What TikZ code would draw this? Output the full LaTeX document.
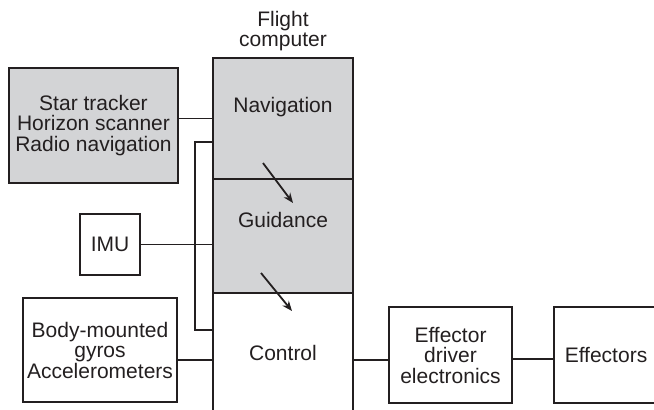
\documentclass[tikz,border=0pt]{standalone}
\usepackage{fontspec}
\setmainfont{Liberation Sans}
\usetikzlibrary{arrows.meta,calc}
\definecolor{fillgray}{RGB}{211,212,214}
\definecolor{ink}{RGB}{35,31,32}
\tikzset{
  blk/.style={draw=ink, line width=1.8pt, rectangle, inner sep=0pt, align=center, text=ink, font=\fontsize{21}{20.5}\selectfont},
  shaded/.style={blk, fill=fillgray},
  lbl/.style={text=ink, align=center, font=\fontsize{21}{20.5}\selectfont, inner sep=0pt},
  wire/.style={draw=ink, line width=1.8pt},
  flow/.style={draw=ink, line width=1.8pt, -{Stealth[length=10pt,width=8pt]}}
}
\begin{document}
\begin{tikzpicture}[x=1pt,y=-1pt]
\useasboundingbox (0,0) rectangle (654,410);
\clip (0,0) rectangle (654,410);
% flight computer
\node[shaded, minimum width=140pt, minimum height=121pt] (nav) at (283,118.5) {};
\node[shaded, minimum width=140pt, minimum height=114pt] (guid) at (283,236) {};
\node[blk, fill=white, minimum width=140pt, minimum height=130pt] (ctrl) at (283,358) {};
\node[lbl] (navt) at (283,107) {Navigation};
\node[lbl] (guidt) at (283,220) {Guidance};
\node[lbl] (ctrlt) at (283,353) {Control};
\node[lbl] (fc) at (283,31) {Flight\\computer};
% sensors
\node[shaded, minimum width=169pt, minimum height=115pt] (star) at (93.5,125.5) {Star tracker\\Horizon scanner\\Radio navigation};
\node[blk, minimum width=60pt, minimum height=61pt] (imu) at (110,244.5) {IMU};
\node[blk, minimum width=154pt, minimum height=104pt] (body) at (100,350) {Body-mounted\\gyros\\Accelerometers};
% actuators
\node[blk, minimum width=123pt, minimum height=96pt] (drv) at (450.5,355) {Effector\\driver\\electronics};
\node[blk, minimum width=104pt, minimum height=96pt, text width=104pt] (eff) at (606,355) {Effectors};
% connectors
\coordinate (row) at (0,360);
\coordinate (loopa) at (195,142);
\coordinate (loopb) at (195,330);
\draw[wire] (star.east |- nav.west) -- (nav.west);
\draw[wire] (nav.west |- loopa) -- (loopa) -- (loopb) -- (ctrl.west |- loopb);
\draw[wire] (imu.east) -- (imu.east -| guid.west);
\draw[wire] (body.east |- row) -- (ctrl.west |- row);
\draw[wire] (ctrl.east |- row) -- (drv.west |- row);
\draw[wire] (drv.east |- 0,359) -- (eff.west |- 0,359);
% flow arrows
\coordinate (a1s) at (263,163);
\coordinate (a1e) at (293,203);
\coordinate (a2s) at (261,273);
\coordinate (a2e) at (292,311);
\draw[flow] (a1s) -- (a1e);
\draw[flow] (a2s) -- (a2e);
\end{tikzpicture}
\end{document}
